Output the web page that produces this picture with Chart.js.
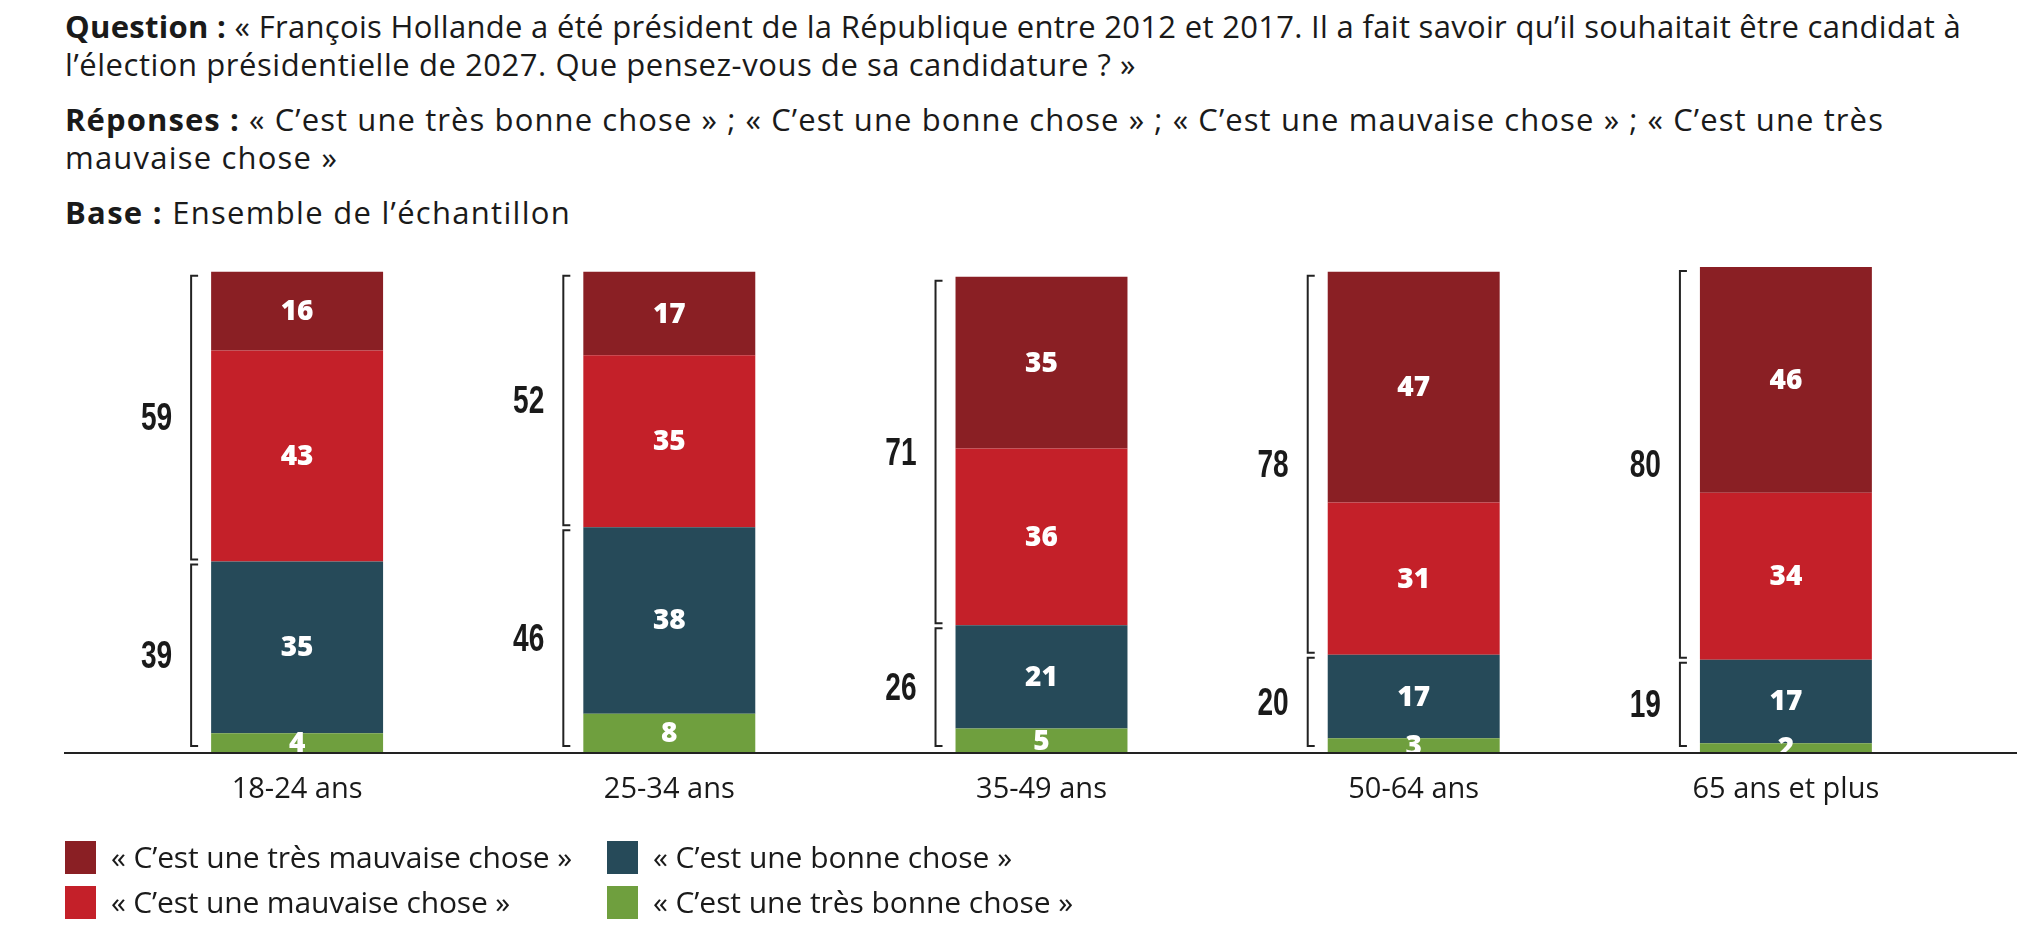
<!DOCTYPE html>
<html lang="fr">
<head>
<meta charset="utf-8">
<title>Candidature de François Hollande</title>
<script src="https://cdn.jsdelivr.net/npm/chart.js@4.4.1/dist/chart.umd.min.js"></script>
<style>
  html, body { margin: 0; padding: 0; background: #fff; }
  body { width: 2038px; height: 946px; position: relative; overflow: hidden;
         font-family: 'Open Sans', 'Noto Sans', sans-serif; color: #1a1a1a; }
  #chart { position: absolute; left: 0; top: 0; }
  #intro { position: absolute; left: 65px; top: 7px; font-size: 31px; line-height: 38px; }
  #intro .para { margin: 0 0 17px 0; }
  #intro .line { white-space: nowrap; }
  #intro .line span.fit { display: inline-block; }
  #intro b { font-weight: 700; }
  #legend { position: absolute; left: 0; top: 0; font-size: 30px; }
  .item { position: absolute; height: 33px; line-height: 33px; white-space: nowrap; }
  .item .box { position: absolute; left: 0; top: 0; width: 31px; height: 33px; }
  .item .txt { position: absolute; top: -1px; display: inline-block; }
</style>
</head>
<body>
<div id="intro">
  <div class="para">
    <div class="line"><span class="fit" data-right="1961"><b>Question :</b> « François Hollande a été président de la République entre 2012 et 2017. Il a fait savoir qu’il souhaitait être candidat à</span></div>
    <div class="line"><span class="fit" data-right="1136">l’élection présidentielle de 2027. Que pensez-vous de sa candidature ? »</span></div>
  </div>
  <div class="para">
    <div class="line"><span class="fit" data-right="1884"><b>Réponses :</b> « C’est une très bonne chose » ; « C’est une bonne chose » ; « C’est une mauvaise chose » ; « C’est une très</span></div>
    <div class="line"><span class="fit" data-right="338">mauvaise chose »</span></div>
  </div>
  <div class="para">
    <div class="line"><span class="fit" data-right="571"><b>Base :</b> Ensemble de l’échantillon</span></div>
  </div>
</div>
<canvas id="chart" width="2038" height="946"></canvas>
<div id="legend"></div>
<script>
// age groups
const categories = ['18-24 ans', '25-34 ans', '35-49 ans', '50-64 ans', '65 ans et plus'];

// answers, in %
const tresBonne = [4, 8, 5, 3, 2];
const bonne = [35, 38, 21, 17, 17];
const mauvaise = [43, 35, 36, 31, 34];
const tresMauvaise = [16, 17, 35, 47, 46];

// totals shown beside the brackets
const totalMauvaise = [59, 52, 71, 78, 80];
const totalBonne = [39, 46, 26, 20, 19];

const labelsSeries = [
    '« C’est une très bonne chose »',
    '« C’est une bonne chose »',
    '« C’est une mauvaise chose »',
    '« C’est une très mauvaise chose »'
];
const colors = ['#6f9f3e', '#264a59', '#c42029', '#8a1f24'];

const ink = '#222222';

// brackets, totals, value labels, baseline, category names
const decorPlugin = {
    id: 'decor',
    afterDatasetsDraw(chart) {
        const ctx = chart.ctx;
        const yScale = chart.scales.y;
        const xScale = chart.scales.x;
        const base = yScale.getPixelForValue(0);

        // values inside the segments
        ctx.save();
        ctx.fillStyle = '#ffffff';
        ctx.font = "800 28px 'Open Sans', sans-serif";
        ctx.textAlign = 'center';
        ctx.textBaseline = 'middle';
        chart.data.datasets.forEach((ds, d) => {
            const meta = chart.getDatasetMeta(d);
            meta.data.forEach((bar, i) => {
                const p = bar.getProps(['x', 'y', 'base'], true);
                ctx.fillText(String(ds.data[i]), p.x, (p.y + p.base) / 2 + 1);
            });
        });
        ctx.restore();

        // brackets and totals
        const metaBonne = chart.getDatasetMeta(1);
        const metaTop = chart.getDatasetMeta(3);
        ctx.save();
        ctx.strokeStyle = ink;
        ctx.lineWidth = 2;
        ctx.fillStyle = '#1a1a1a';
        ctx.font = "bold 39px 'Liberation Sans', Arial, sans-serif";
        ctx.textAlign = 'right';
        ctx.textBaseline = 'middle';
        categories.forEach((c, i) => {
            const top = metaTop.data[i].getProps(['y', 'x', 'width'], true);
            const mid = metaBonne.data[i].getProps(['y'], true).y;
            const bx = top.x - top.width / 2 - 20;
            const groups = [
                [top.y + 4, mid - 2, totalMauvaise[i]],
                [mid + 3, base - 7, totalBonne[i]]
            ];
            groups.forEach(([y1, y2, total]) => {
                ctx.beginPath();
                ctx.moveTo(bx + 7, y1);
                ctx.lineTo(bx, y1);
                ctx.lineTo(bx, y2);
                ctx.lineTo(bx + 7, y2);
                ctx.stroke();
                // condensed look of the original figures
                ctx.save();
                ctx.translate(bx - 19, (y1 + y2) / 2 + 2);
                ctx.scale(0.72, 1);
                ctx.fillText(String(total), 0, 0);
                ctx.restore();
            });
        });
        ctx.restore();

        // baseline
        ctx.save();
        ctx.strokeStyle = ink;
        ctx.lineWidth = 2;
        ctx.beginPath();
        ctx.moveTo(64, base);
        ctx.lineTo(2017, base);
        ctx.stroke();
        ctx.restore();

        // category names
        ctx.save();
        ctx.fillStyle = '#1a1a1a';
        ctx.font = "29px 'Open Sans', sans-serif";
        ctx.textAlign = 'center';
        ctx.textBaseline = 'middle';
        categories.forEach((c, i) => {
            ctx.fillText(c, xScale.getPixelForValue(i), base + 37);
        });
        ctx.restore();
    }
};

const chartData = {
    labels: categories,
    datasets: [tresBonne, bonne, mauvaise, tresMauvaise].map((values, k) => ({
        label: labelsSeries[k],
        data: values,
        backgroundColor: colors[k],
        borderWidth: 0,
        barPercentage: 0.462,
        categoryPercentage: 1
    }))
};

new Chart(document.getElementById('chart'), {
    type: 'bar',
    data: chartData,
    options: {
        responsive: false,
        animation: false,
        layout: { padding: { left: 111, right: 66, top: 262, bottom: 193 } },
        scales: {
            x: { stacked: true, display: false },
            y: { stacked: true, display: false, min: 0, max: 100 }
        },
        plugins: {
            legend: { display: false },
            tooltip: { enabled: false }
        }
    },
    plugins: [decorPlugin]
});

// legend in two columns, as in the original
const legendOrder = [3, 2, 1, 0];
const legendPos = [[65, 841], [65, 886], [607, 841], [607, 886]];
const legendRight = [572, 510, 1012, 1073];
const legend = document.getElementById('legend');
legendOrder.forEach((k, n) => {
    const item = document.createElement('div');
    item.className = 'item';
    item.style.left = legendPos[n][0] + 'px';
    item.style.top = legendPos[n][1] + 'px';
    item.innerHTML = '<span class="box" style="background:' + colors[k] + '"></span>' +
        '<span class="txt fit" style="left:46px" data-right="' + legendRight[n] + '">' + labelsSeries[k] + '</span>';
    legend.appendChild(item);
});

// stretch each text line to the width it has in the original (wider font there)
function fitLines() {
    document.querySelectorAll('.fit').forEach(el => {
        el.style.letterSpacing = '0px';
        const box = el.getBoundingClientRect();
        const target = Number(el.dataset.right) - box.left;
        const n = el.textContent.length;
        el.style.letterSpacing = ((target - box.width) / n) + 'px';
    });
}
fitLines();
if (document.fonts) document.fonts.ready.then(fitLines);
</script>
</body>
</html>
